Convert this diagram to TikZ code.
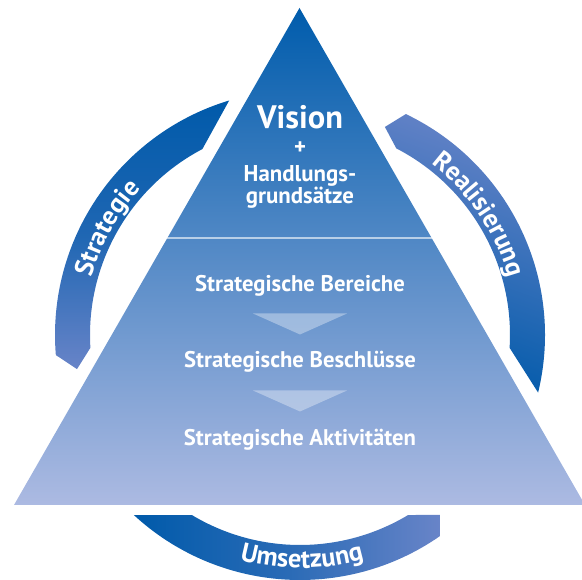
\documentclass[tikz,border=0pt]{standalone}
\usepackage{fontspec}
\setmainfont{PT Sans}
\usetikzlibrary{calc, decorations.text}
\definecolor{ringdark}{RGB}{0,90,170}
\definecolor{ringlight}{RGB}{104,132,200}
\definecolor{pyrtop}{RGB}{0,92,172}
\definecolor{pyrmid}{RGB}{90,124,194}
\definecolor{pyrbottom}{RGB}{172,186,226}
\tikzset{
  pyrtext/.style = {text=white, font=\bfseries\fontsize{12.9}{14}\selectfont, inner sep=0pt},
  chevron/.style = {fill=white, fill opacity=0.35},
  ringtext/.style = {decorate, decoration={text along path, text align=center,
      text={|\color{white}\bfseries\fontsize{15}{17}\selectfont|#1}}}
}

\begin{document}
\begin{tikzpicture}[x=0.02cm, y=0.02cm]
\useasboundingbox (0,0) rectangle (582,-580);
\coordinate (C) at (300,-335);
\coordinate (apex) at (299.5,-8);
\coordinate (left) at (14,-505);
\coordinate (right) at (585,-505);

\shade[top color=ringdark, bottom color=ringlight, middle color=ringdark!70!ringlight]
  ($(C)+(106.8:245)$) arc[start angle=106.8, end angle=184.7, radius=245]
  -- ($(C)+(188.7:225.6)$) -- ($(C)+(183.5:210)$)
  arc[start angle=183.5, end angle=117.7, radius=210] -- cycle;
\shade[top color=ringlight, bottom color=ringdark, shading angle=-20]
  ($(C)+(64.4:245)$) arc[start angle=64.4, end angle=-13.6, radius=245]
  -- ($(C)+(-3.5:210)$) arc[start angle=-3.5, end angle=62.7, radius=210]
  -- ($(C)+(67.8:224.7)$) -- cycle;
\shade[left color=ringdark, right color=ringlight, middle color=ringdark!60!ringlight]
  (440,-515) -- ($(C)+(301:210)$) arc[start angle=301, end angle=239, radius=210]
  -- ($(C)+(227.3:245)$) arc[start angle=227.3, end angle=304.8, radius=245] -- cycle;

\path[ringtext=Strategie] ($(C)+(182:216)$) arc[start angle=182, end angle=120, radius=216];
\path[ringtext=Realisierung] ($(C)+(66:216)$) arc[start angle=66, end angle=2, radius=216];
\path[ringtext=Umsetzung] ($(C)+(238:233)$) arc[start angle=238, end angle=303, radius=233];

\shade[top color=pyrtop, middle color=pyrmid, bottom color=pyrbottom] (apex) -- (left) -- (right) -- cycle;
\draw[white, opacity=0.6, line width=1.2pt] ($(apex)!0.4628!(left)$) -- ($(apex)!0.4628!(right)$);

\node[pyrtext, font=\bfseries\fontsize{18.5}{20}\selectfont] (vision) at (300,-117) {Vision};
\node[pyrtext] (plus) at (300,-148) {+};
\node[pyrtext, align=center, font=\bfseries\fontsize{13}{12.5}\selectfont] (leitsatz) at (300,-187) {Handlungs-\\grundsätze};
\node[pyrtext] (bereiche) at (300,-286) {Strategische Bereiche};
\node[pyrtext] (beschluesse) at (300,-362) {Strategische Beschlüsse};
\node[pyrtext] (aktivitaeten) at (300,-440) {Strategische Aktivitäten};

\coordinate (p1) at ($(bereiche)!0.5!(beschluesse)$);
\coordinate (p2) at ($(beschluesse)!0.5!(aktivitaeten)$);
\fill[chevron] ($(p1)+(-47,10.5)$) -- ($(p1)+(47,10.5)$) -- ($(p1)+(0,-10.5)$) -- cycle;
\fill[chevron] ($(p2)+(-47,10.5)$) -- ($(p2)+(47,10.5)$) -- ($(p2)+(0,-10.5)$) -- cycle;
\end{tikzpicture}
\end{document}
